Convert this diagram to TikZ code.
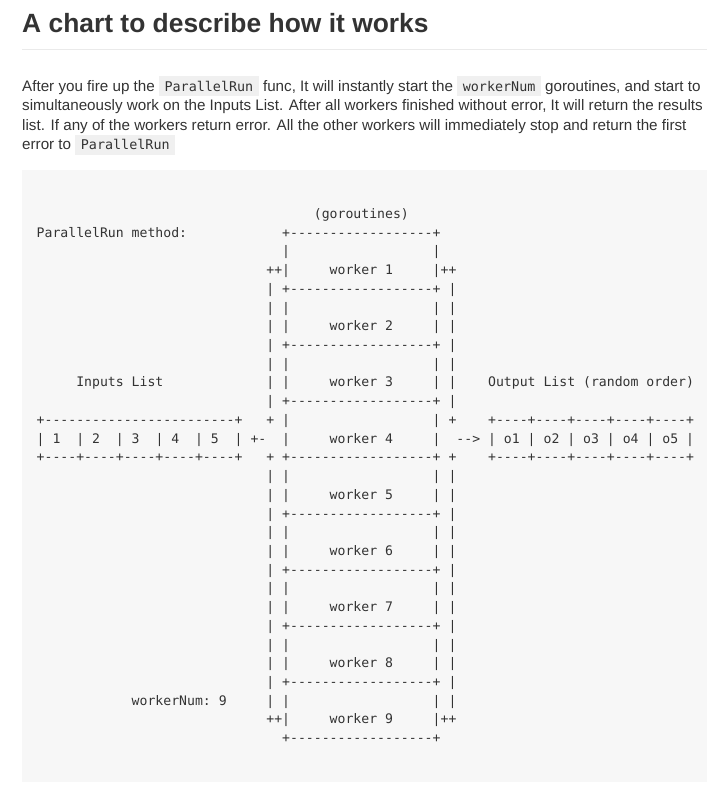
\documentclass[tikz,border=0pt]{standalone}
\usepackage{fontspec}
\setmainfont{Liberation Sans}
\setmonofont{DejaVu Sans Mono}
\usepackage{xcolor}
\usepackage{tikz}
\definecolor{doc_text}{RGB}{51, 51, 51}
\definecolor{doc_rule}{RGB}{234, 234, 234}
\definecolor{doc_pre}{RGB}{247, 247, 247}
\definecolor{doc_code}{RGB}{240, 240, 240}
\newcommand{\codefont}{\ttfamily\fontsize{13.15}{16}\selectfont}
\newcommand{\gocode}[1]{{\setlength{\fboxsep}{0pt}\colorbox{doc_code}{\rule[-5pt]{0pt}{19.5pt}\hspace{5.5pt}\ttfamily\fontsize{13.4}{16}\selectfont #1\hspace{5.5pt}}}}

\begin{document}
\begin{tikzpicture}[x=1pt, y=-1pt,
    asc/.style={font=\codefont, text=doc_text, anchor=base west, inner sep=0pt},
    cell/.style 2 args={at={({36.5+7.92*(#1)},{218.5+18.72*(#2)})}},
    bodyline/.style={font=\fontsize{15.2}{19}\selectfont, text=doc_text, anchor=base west, inner sep=0pt}]
        \useasboundingbox (0,0) rectangle (722,800);

        % Heading and text
        \node[anchor=base west, inner sep=0pt, text=doc_text, font=\bfseries\fontsize{26.4}{30}\selectfont] (title) at (22,33) {A chart to describe how it works};
        \draw[doc_rule, line width=1pt] (22,50) -- (707,50);
        \node[bodyline] (intro1) at (22,91) {After you fire up the \gocode{ParallelRun} func, It will instantly start the \gocode{workerNum} goroutines, and start to};
        \node[bodyline] (intro2) at (22,110.5) {simultaneously work on the Inputs List. After all workers finished without error, It will return the results};
        \node[bodyline] (intro3) at (22,130) {list. If any of the workers return error. All the other workers will immediately stop and return the first};
        \node[bodyline] (intro4) at (22,149.5) {error to \gocode{ParallelRun}};

        % Chart background
        \fill[doc_pre] (22,170) rectangle (707,782);

        % Labels
        \node[asc, cell={35}{0}] (goroutines) {(goroutines)};
        \node[asc, cell={0}{1}] (methodlabel) {ParallelRun method:};
        \node[asc, cell={5}{9}] (inputslabel) {Inputs List};
        \node[asc, cell={57}{9}] (outputslabel) {Output List (random order)};
        \node[asc, cell={12}{26}] (numlabel) {workerNum: 9};

        % Workers column
        \foreach \k in {0,...,9}
          { \node[asc, cell={31}{3*\k+1}] (border\k) {+------------------+}; }
        \foreach \k in {1,...,9}
          { \node[asc, cell={31}{3*\k-1}] (padl\k) {|};
            \node[asc, cell={50}{3*\k-1}] (padr\k) {|};
            \node[asc, cell={31}{3*\k}] (wl\k) {|};
            \node[asc, cell={37}{3*\k}] (worker\k) {worker \k};
            \node[asc, cell={50}{3*\k}] (wr\k) {|}; }

        % Outer rails
        \node[asc, cell={29}{3}] (railtl) {++};
        \node[asc, cell={51}{3}] (railtr) {++};
        \node[asc, cell={29}{27}] (railbl) {++};
        \node[asc, cell={51}{27}] (railbr) {++};
        \foreach \r in {4,...,10}
          { \node[asc, cell={29}{\r}] (raill\r) {|};
            \node[asc, cell={52}{\r}] (railr\r) {|}; }
        \foreach \r in {14,...,26}
          { \node[asc, cell={29}{\r}] (raill\r) {|};
            \node[asc, cell={52}{\r}] (railr\r) {|}; }
        \foreach \r in {11,13}
          { \node[asc, cell={29}{\r}] (raill\r) {+};
            \node[asc, cell={52}{\r}] (railr\r) {+}; }

        % Inputs list
        \node[asc, cell={0}{11}] (intop) {+------------------------+};
        \node[asc, cell={0}{13}] (inbot) {+----+----+----+----+----+};
        \foreach \i in {1,...,5}
          { \node[asc, cell={5*\i-5}{12}] (insep\i) {|};
            \node[asc, cell={5*\i-3}{12}] (in\i) {\i}; }
        \node[asc, cell={25}{12}] (insep6) {|};
        \node[asc, cell={27}{12}] (infeed) {+-};

        % Output list
        \node[asc, cell={53}{12}] (outarrow) {-->};
        \node[asc, cell={57}{11}] (outtop) {+----+----+----+----+----+};
        \node[asc, cell={57}{13}] (outbot) {+----+----+----+----+----+};
        \foreach \i in {1,...,5}
          { \node[asc, cell={5*\i+52}{12}] (outsep\i) {|};
            \node[asc, cell={5*\i+54}{12}] (out\i) {o\i}; }
        \node[asc, cell={82}{12}] (outsep6) {|};
      \end{tikzpicture}
\end{document}
